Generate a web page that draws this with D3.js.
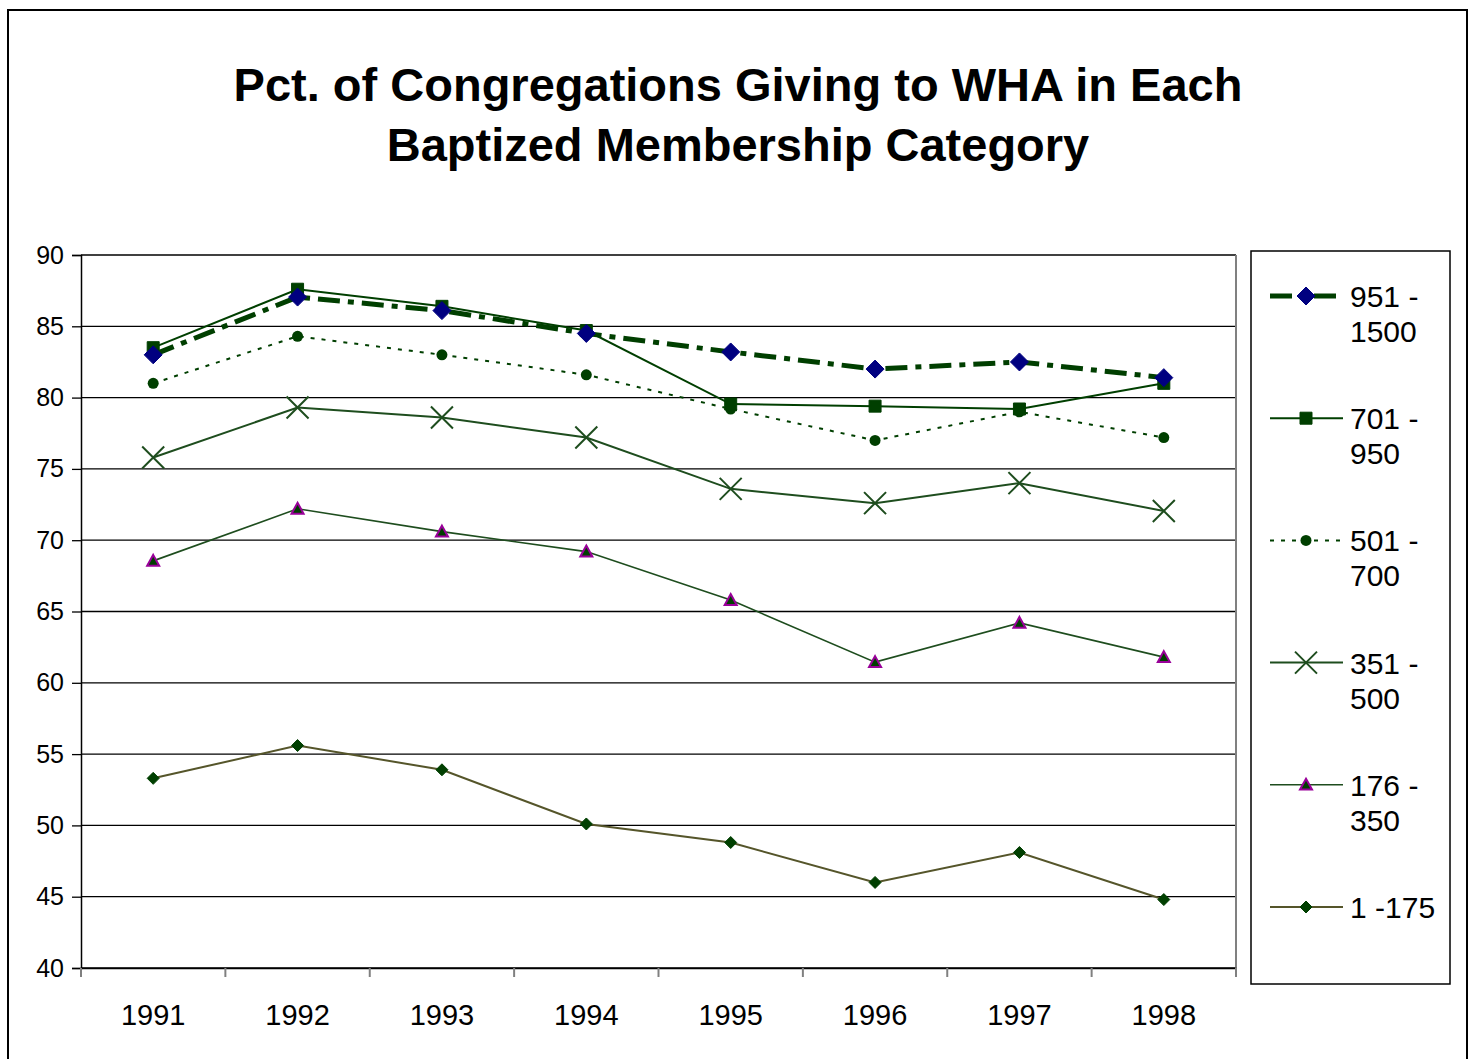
<!DOCTYPE html>
<html>
<head>
<meta charset="utf-8">
<script src="https://cdn.jsdelivr.net/npm/d3@7"></script>
<style>
  body { margin: 0; background: #fff; }
  svg { display: block; font-family: 'Liberation Sans', Arial, sans-serif; }
</style>
</head>
<body>
<script>
// Data
var years = ['1991', '1992', '1993', '1994', '1995', '1996', '1997', '1998']
var seriesNames = ['951 -\n1500', '701 -\n950', '501 -\n700', '351 -\n500', '176 -\n350', '1 -175']
var s951 = [83.0, 87.05, 86.1, 84.5, 83.2, 82.0, 82.5, 81.4]
var s701 = [83.5, 87.6, 86.4, 84.7, 79.55, 79.4, 79.2, 81.0]
var s501 = [81.0, 84.3, 83.0, 81.6, 79.2, 77.0, 79.0, 77.2]
var s351 = [75.8, 79.3, 78.6, 77.2, 73.6, 72.6, 74.0, 72.05]
var s176 = [68.55, 72.2, 70.6, 69.2, 65.8, 61.45, 64.2, 61.8]
var s1 = [53.3, 55.6, 53.9, 50.1, 48.8, 46.0, 48.1, 44.8]
var yTicks = [40, 45, 50, 55, 60, 65, 70, 75, 80, 85, 90]

var W = 1473, H = 1059
var plot = { left: 81, top: 255, right: 1236, bottom: 968 }

// Series styles
var styles = [
  { values: s951, line: '#003f00', width: 5, dash: '22,8,6,8', marker: 'diamond', size: 9, fill: '#000080', stroke: '#000080' },
  { values: s701, line: '#003f00', width: 2, dash: null, marker: 'square', size: 6, fill: '#003f00', stroke: '#003f00' },
  { values: s501, line: '#003f00', width: 2, dash: '4,7', marker: 'circle', size: 5.5, fill: '#003f00', stroke: '#003f00' },
  { values: s351, line: '#1e4d1e', width: 2, dash: null, marker: 'x', size: 11, fill: 'none', stroke: '#1e4d1e' },
  { values: s176, line: '#1e4d1e', width: 1.6, dash: null, marker: 'triangle', size: 6, fill: '#003f00', stroke: '#990099' },
  { values: s1, line: '#55552a', width: 2, dash: null, marker: 'diamond', size: 6, fill: '#003f00', stroke: '#003f00' }
]

var svg = d3.select('body').append('svg')
    .attr('width', W)
    .attr('height', H)

// outer frame
svg.append('rect')
    .attr('x', 8).attr('y', 10)
    .attr('width', 1459).attr('height', 1080)
    .attr('fill', 'none')
    .attr('stroke', '#000')
    .attr('stroke-width', 2)

// Title
svg.append('text')
    .attr('x', 738).attr('y', 101)
    .attr('text-anchor', 'middle')
    .style('font-size', '47px').style('font-weight', 'bold')
    .text('Pct. of Congregations Giving to WHA in Each')
svg.append('text')
    .attr('x', 738).attr('y', 161)
    .attr('text-anchor', 'middle')
    .style('font-size', '47px').style('font-weight', 'bold')
    .text('Baptized Membership Category')

// Scales
var xScale = d3.scaleBand().domain(years).range([plot.left, plot.right])
var yScale = d3.scaleLinear().domain([40, 90]).range([plot.bottom, plot.top])
var cx = function (i) { return xScale(years[i]) + xScale.bandwidth() / 2 }

// Gridlines
svg.append('g')
    .selectAll('line')
    .data(yTicks)
    .enter()
  .append('line')
    .attr('x1', plot.left).attr('x2', plot.right)
    .attr('y1', function (d) { return yScale(d) })
    .attr('y2', function (d) { return yScale(d) })
    .attr('stroke', '#000')
    .attr('stroke-width', 1.3)

// plot-area right edge
svg.append('line')
    .attr('x1', plot.right).attr('x2', plot.right)
    .attr('y1', plot.top).attr('y2', plot.bottom)
    .attr('stroke', '#808080').attr('stroke-width', 2)

// Y axis
var yAxis = d3.axisLeft(yScale).tickValues(yTicks).tickSize(9).tickPadding(8)
var gy = svg.append('g')
    .attr('transform', 'translate(' + plot.left + ',0)')
    .call(yAxis)
gy.select('.domain').attr('stroke', '#000').attr('stroke-width', 1.5)
gy.selectAll('.tick line').attr('stroke', '#000').attr('stroke-width', 1.3)
gy.selectAll('text').style('font-size', '25px').attr('fill', '#000')
    .style('font-family', "'Liberation Sans', Arial, sans-serif")

// X axis
var xAxis = d3.axisBottom(xScale).tickSize(0).tickPadding(36)
var gx = svg.append('g')
    .attr('transform', 'translate(0,' + plot.bottom + ')')
    .call(xAxis)
gx.select('.domain').attr('stroke', '#000').attr('stroke-width', 1.5)
gx.selectAll('text').style('font-size', '29px').attr('fill', '#000')
    .style('font-family', "'Liberation Sans', Arial, sans-serif")
// category boundary ticks
gx.selectAll('.bound')
    .data(years.concat(['end']))
    .enter()
  .append('line')
    .attr('class', 'bound')
    .attr('x1', function (d, i) { return plot.left + i * xScale.bandwidth() })
    .attr('x2', function (d, i) { return plot.left + i * xScale.bandwidth() })
    .attr('y1', 0).attr('y2', 9)
    .attr('stroke', '#808080').attr('stroke-width', 2)

// Marker drawing
function drawMarker (g, st, x, y) {
  var s = st.size
  var d
  if (st.marker === 'x') {
    g.append('path')
      .attr('d', 'M' + (x - s) + ',' + (y - s) + 'L' + (x + s) + ',' + (y + s) +
                 'M' + (x - s) + ',' + (y + s) + 'L' + (x + s) + ',' + (y - s))
      .attr('stroke', st.stroke).attr('stroke-width', 2).attr('fill', 'none')
    return
  }
  if (st.marker === 'circle') {
    g.append('circle').attr('cx', x).attr('cy', y).attr('r', s).attr('fill', st.fill)
    return
  }
  if (st.marker === 'diamond') d = 'M0,' + (-s) + 'L' + s + ',0L0,' + s + 'L' + (-s) + ',0Z'
  if (st.marker === 'square') d = 'M' + (-s) + ',' + (-s) + 'H' + s + 'V' + s + 'H' + (-s) + 'Z'
  if (st.marker === 'triangle') d = 'M0,' + (-s) + 'L' + s + ',' + (s * 0.8) + 'H' + (-s) + 'Z'
  g.append('path')
    .attr('d', d)
    .attr('transform', 'translate(' + x + ',' + y + ')')
    .attr('fill', st.fill)
    .attr('stroke', st.stroke)
    .attr('stroke-width', st.marker === 'triangle' ? 2 : 1)
}

// Lines (draw from bottom series upward so top series sit on top)
var line = d3.line()
    .x(function (d, i) { return cx(i) })
    .y(function (d) { return yScale(d) })

styles.slice().reverse().forEach(function (st) {
  var g = svg.append('g')
  g.append('path')
      .datum(st.values)
      .attr('d', line)
      .attr('fill', 'none')
      .attr('stroke', st.line)
      .attr('stroke-width', st.width)
      .attr('stroke-dasharray', st.dash)
  st.values.forEach(function (v, i) { drawMarker(g, st, cx(i), yScale(v)) })
})

// Legend
var lg = svg.append('g')
lg.append('rect')
    .attr('x', 1251).attr('y', 251)
    .attr('width', 199).attr('height', 733)
    .attr('fill', '#fff')
    .attr('stroke', '#000').attr('stroke-width', 1.5)

styles.forEach(function (st, i) {
  var y = 296 + i * 122.2
  var item = lg.append('g')
  item.append('line')
      .attr('x1', 1270).attr('x2', 1343)
      .attr('y1', y).attr('y2', y)
      .attr('stroke', st.line)
      .attr('stroke-width', st.width)
      .attr('stroke-dasharray', st.dash)
  drawMarker(item, st, 1306, y)
  var lines = seriesNames[i].split('\n')
  var t = item.append('text')
      .attr('x', 1350).attr('y', y + 11)
      .style('font-size', '30px')
      .attr('fill', '#000')
  lines.forEach(function (l, j) {
    t.append('tspan').attr('x', 1350).attr('dy', j === 0 ? 0 : 35).text(l)
  })
})
</script>
</body>
</html>
